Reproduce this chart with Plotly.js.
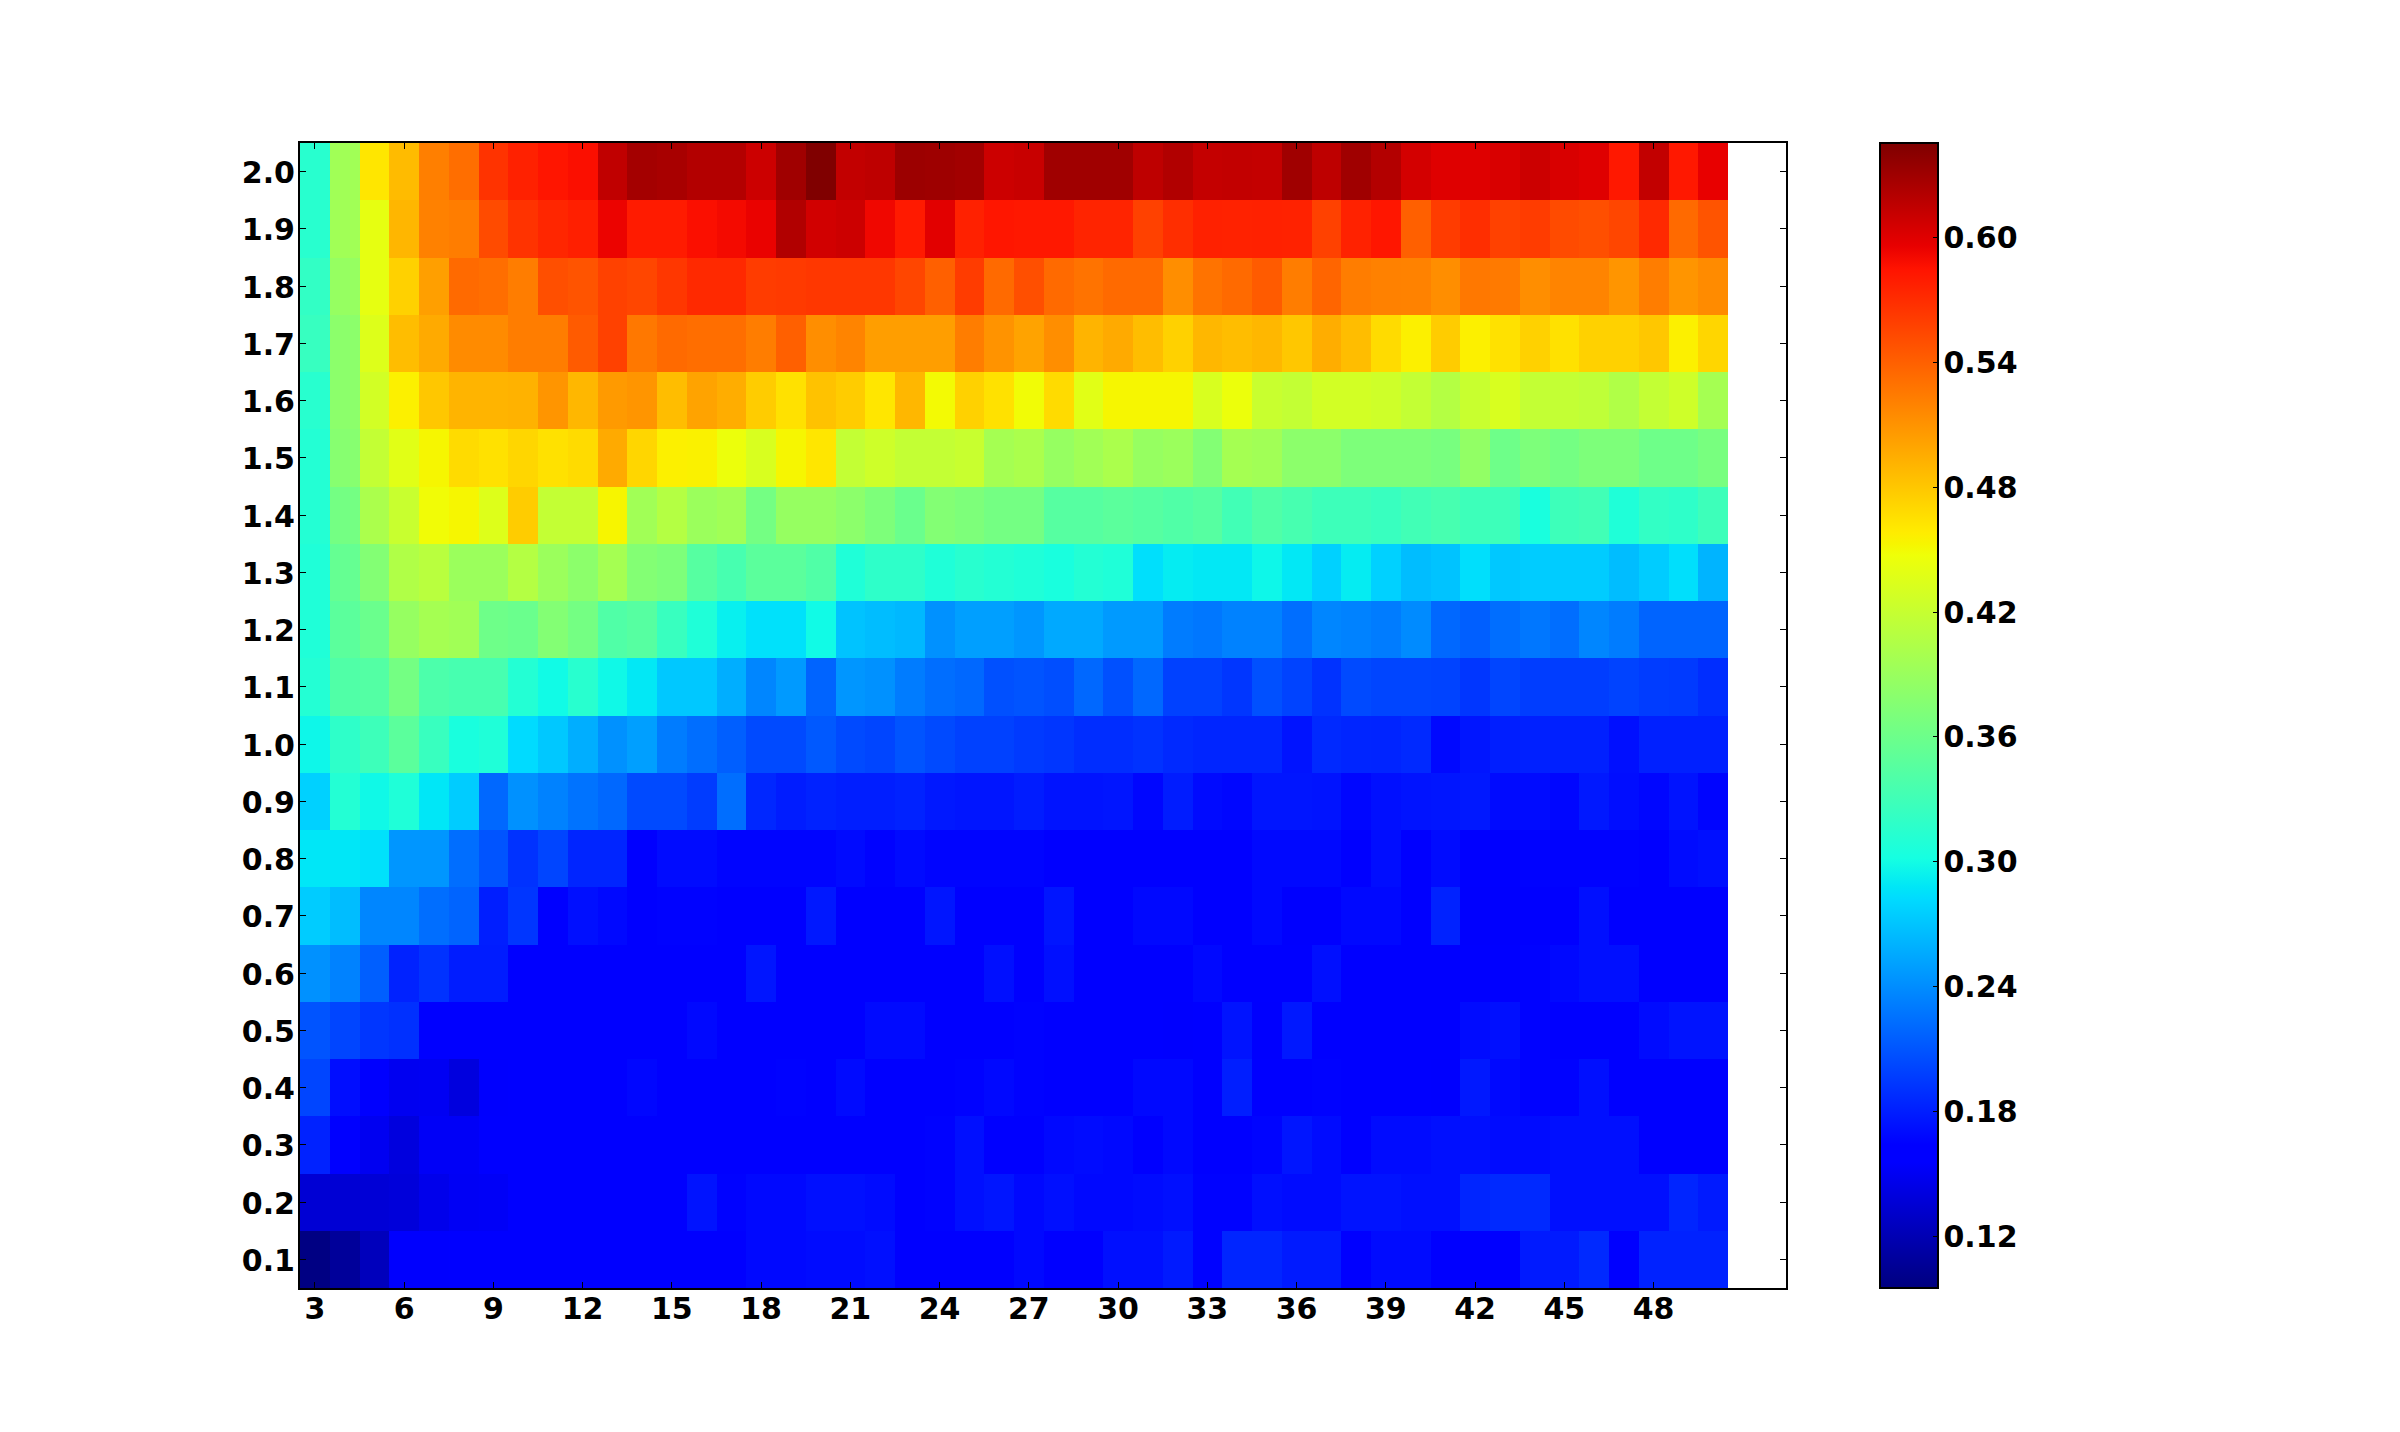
<!DOCTYPE html>
<html><head><meta charset="utf-8">
<script src="https://cdn.plot.ly/plotly-3.0.1.min.js"></script>
<style>html,body{margin:0;padding:0;background:#fff}</style>
</head><body><div id="chart" style="width:2400px;height:1432px"></div>
<script>
const xCats=[3,4,5,6,7,8,9,10,11,12,13,14,15,16,17,18,19,20,21,22,23,24,25,26,27,28,29,30,31,32,33,34,35,36,37,38,39,40,41,42,43,44,45,46,47,48,49,50];
const yCats=[0.1,0.2,0.3,0.4,0.5,0.6,0.7,0.8,0.9,1.0,1.1,1.2,1.3,1.4,1.5,1.6,1.7,1.8,1.9,2.0];
const r20=[.314,.395,.462,.487,.522,.532,.566,.577,.584,.587,
.615,.628,.626,.621,.621,.609,.630,.645,.614,.616,
.632,.631,.629,.609,.611,.630,.630,.630,.616,.622,
.613,.614,.613,.630,.616,.630,.621,.606,.600,.600,
.603,.609,.603,.600,.582,.614,.582,.596];
const r19=[.314,.395,.441,.490,.521,.523,.552,.566,.574,.578,
.594,.580,.580,.587,.590,.595,.622,.607,.609,.592,
.581,.599,.577,.583,.582,.582,.575,.575,.558,.569,
.577,.576,.577,.576,.558,.576,.583,.540,.561,.569,
.558,.561,.552,.550,.555,.572,.534,.547];
const r18=[.321,.388,.441,.474,.503,.534,.532,.523,.550,.547,
.558,.555,.564,.572,.572,.561,.562,.564,.564,.564,
.555,.540,.561,.534,.550,.534,.529,.534,.534,.513,
.529,.534,.543,.523,.537,.523,.521,.520,.513,.526,
.525,.513,.519,.519,.509,.523,.509,.515];
const r17=[.324,.381,.435,.486,.497,.515,.515,.523,.523,.543,
.558,.526,.534,.532,.532,.523,.540,.513,.519,.504,
.504,.504,.523,.510,.501,.513,.491,.497,.486,.474,
.489,.486,.489,.480,.495,.486,.468,.456,.477,.456,
.465,.474,.465,.474,.474,.480,.456,.471];
const r16=[.314,.381,.428,.456,.480,.491,.491,.492,.509,.489,
.506,.509,.486,.501,.495,.477,.465,.483,.477,.462,
.489,.450,.474,.465,.449,.468,.438,.452,.452,.452,
.432,.445,.421,.418,.428,.428,.425,.418,.408,.421,
.432,.418,.418,.415,.405,.418,.425,.398];
const r15=[.311,.378,.418,.438,.452,.468,.465,.471,.465,.468,
.497,.471,.456,.455,.445,.432,.452,.462,.418,.425,
.418,.418,.421,.398,.402,.388,.395,.402,.388,.391,
.375,.398,.395,.381,.381,.371,.371,.371,.368,.385,
.361,.371,.365,.371,.371,.361,.361,.368];
const r14=[.311,.365,.402,.421,.449,.452,.435,.477,.418,.418,
.453,.395,.408,.391,.395,.365,.388,.388,.381,.371,
.358,.375,.371,.365,.365,.345,.345,.348,.345,.341,
.345,.331,.341,.335,.328,.328,.325,.331,.335,.328,
.328,.304,.328,.331,.308,.321,.318,.328];
const r13=[.308,.355,.375,.405,.411,.391,.391,.408,.391,.381,
.398,.375,.371,.345,.335,.348,.348,.341,.308,.318,
.318,.308,.314,.311,.308,.304,.311,.308,.284,.291,
.289,.289,.297,.289,.277,.291,.277,.266,.269,.284,
.272,.274,.274,.274,.266,.274,.284,.261];
const r12=[.308,.348,.358,.388,.398,.395,.361,.358,.375,.365,
.341,.345,.325,.308,.293,.285,.285,.299,.269,.266,
.263,.242,.250,.250,.245,.255,.255,.247,.247,.231,
.228,.234,.234,.223,.236,.234,.231,.239,.220,.215,
.223,.228,.223,.236,.231,.218,.218,.218];
const r11=[.311,.341,.343,.365,.338,.335,.335,.311,.299,.314,
.298,.289,.272,.272,.258,.236,.247,.218,.245,.242,
.231,.223,.220,.207,.209,.206,.220,.207,.220,.199,
.199,.193,.207,.200,.191,.204,.201,.201,.200,.193,
.201,.197,.197,.197,.200,.196,.195,.188];
const r10=[.297,.318,.328,.348,.325,.304,.308,.282,.272,.258,
.242,.250,.231,.223,.215,.204,.204,.212,.204,.201,
.209,.204,.199,.199,.195,.193,.188,.188,.191,.186,
.184,.184,.184,.174,.186,.184,.183,.186,.168,.175,
.180,.181,.181,.181,.172,.181,.181,.181];
const r09=[.277,.311,.298,.308,.288,.274,.220,.242,.234,.226,
.220,.204,.204,.196,.223,.185,.179,.182,.180,.180,
.182,.177,.175,.175,.179,.174,.174,.175,.167,.179,
.169,.167,.175,.175,.174,.167,.172,.174,.175,.177,
.169,.170,.167,.177,.171,.167,.174,.166];
const r08=[.288,.288,.285,.245,.245,.223,.209,.191,.201,.184,
.184,.164,.170,.170,.166,.166,.166,.166,.169,.165,
.169,.166,.166,.166,.166,.164,.163,.163,.163,.163,
.163,.163,.168,.168,.168,.163,.171,.163,.170,.158,
.158,.165,.165,.165,.165,.163,.170,.172];
const r07=[.274,.266,.236,.236,.223,.218,.180,.193,.158,.172,
.168,.163,.165,.165,.163,.163,.158,.177,.160,.160,
.158,.175,.158,.158,.158,.175,.158,.162,.168,.168,
.158,.160,.168,.155,.155,.168,.168,.160,.182,.155,
.155,.163,.158,.172,.158,.158,.158,.158];
const r06=[.242,.234,.215,.182,.191,.179,.179,.158,.158,.158,
.158,.158,.158,.158,.158,.175,.158,.160,.158,.158,
.158,.158,.158,.172,.160,.172,.158,.160,.160,.158,
.168,.158,.158,.158,.172,.156,.156,.156,.156,.156,
.156,.165,.168,.172,.172,.157,.157,.157];
const r05=[.209,.201,.193,.190,.156,.156,.156,.156,.156,.156,
.156,.156,.156,.168,.157,.157,.157,.157,.157,.169,
.169,.160,.158,.162,.165,.158,.160,.162,.163,.155,
.157,.174,.155,.177,.158,.156,.156,.156,.156,.170,
.172,.165,.162,.162,.162,.170,.174,.174];
const r04=[.201,.171,.155,.149,.150,.140,.155,.156,.156,.156,
.156,.167,.157,.157,.157,.157,.165,.158,.169,.158,
.158,.158,.165,.168,.165,.158,.157,.160,.168,.168,
.158,.180,.156,.156,.165,.157,.158,.158,.155,.177,
.168,.165,.165,.172,.158,.157,.157,.157];
const r03=[.182,.157,.149,.140,.152,.152,.157,.157,.157,.157,
.157,.157,.157,.157,.157,.157,.157,.157,.157,.157,
.157,.165,.172,.157,.158,.168,.170,.168,.157,.168,
.158,.156,.166,.175,.170,.156,.170,.170,.172,.172,
.170,.170,.172,.172,.172,.156,.164,.158];
const r02=[.135,.135,.136,.138,.146,.151,.152,.157,.157,.157,
.157,.157,.157,.174,.165,.168,.168,.172,.172,.170,
.162,.165,.172,.175,.168,.172,.168,.168,.170,.172,
.165,.165,.172,.170,.170,.174,.174,.172,.172,.184,
.186,.186,.172,.172,.172,.172,.184,.178];
const r01=[.097,.108,.124,.155,.155,.157,.157,.157,.157,.157,
.157,.157,.157,.157,.157,.168,.168,.170,.170,.172,
.160,.160,.160,.160,.168,.157,.157,.172,.172,.178,
.165,.184,.184,.178,.178,.160,.170,.170,.163,.163,
.163,.178,.178,.186,.163,.182,.182,.182];
const zRows=[r01,r02,r03,r04,r05,r06,r07,r08,r09,r10,r11,r12,r13,r14,r15,r16,r17,r18,r19,r20];
const xTicks=[3,6,9,12,15,18,21,24,27,30,33,36,39,42,45,48];
const cbTicks=[0.12,0.18,0.24,0.30,0.36,0.42,0.48,0.54,0.60];
const jet=[[0,'rgb(0,0,127)'],[.11,'rgb(0,0,255)'],[.125,'rgb(0,0,255)'],[.34,'rgb(0,219,255)'],[.35,'rgb(0,230,247)'],[.375,'rgb(21,255,226)'],[.64,'rgb(239,255,8)'],[.65,'rgb(247,245,0)'],[.66,'rgb(255,236,0)'],[.89,'rgb(255,19,0)'],[.91,'rgb(232,0,0)'],[1,'rgb(127,0,0)']];
const tf={family:'"DejaVu Sans"',size:30,weight:'bold',color:'#000'};
const axisCommon={showgrid:false,zeroline:false,showline:true,linecolor:'#000',linewidth:2,mirror:'ticks',ticks:'inside',ticklen:6,tickwidth:1,tickcolor:'#000',tickfont:tf};
Plotly.newPlot('chart',[{type:'heatmap',x:xCats,y:yCats,z:zRows,zmin:0.095,zmax:0.6455,zsmooth:false,colorscale:jet,
 colorbar:{x:1.0633,xanchor:'left',xref:'paper',y:0.5,yanchor:'middle',len:1,lenmode:'fraction',thickness:58,thicknessmode:'pixels',xpad:0,ypad:0,outlinewidth:2,outlinecolor:'#000',tickmode:'array',tickvals:cbTicks,ticktext:cbTicks.map(v=>v.toFixed(2)),ticks:'inside',ticklen:6,tickwidth:1,tickcolor:'#000',tickfont:tf}}],
 {width:2400,height:1432,paper_bgcolor:'#fff',plot_bgcolor:'#fff',margin:{l:300,r:614,t:143,b:144,pad:0,autoexpand:false},
 xaxis:Object.assign({},axisCommon,{range:[2.5,52.45],tickmode:'array',tickvals:xTicks,ticktext:xTicks.map(String),ticklabelstandoff:-7}),
 yaxis:Object.assign({},axisCommon,{range:[0.05,2.05],tickmode:'array',tickvals:yCats,ticktext:yCats.map(v=>v.toFixed(1)),ticklabelstandoff:-3,ticklabelshift:1})},
 {displayModeBar:false,responsive:false}).then(function(){
  document.querySelectorAll('.colorbar .ytick text, .colorbar .cbaxis text').forEach(function(t){
    var x=parseFloat(t.getAttribute('x')||'0'); t.setAttribute('x',x-2);
  });
 });
</script></body></html>
